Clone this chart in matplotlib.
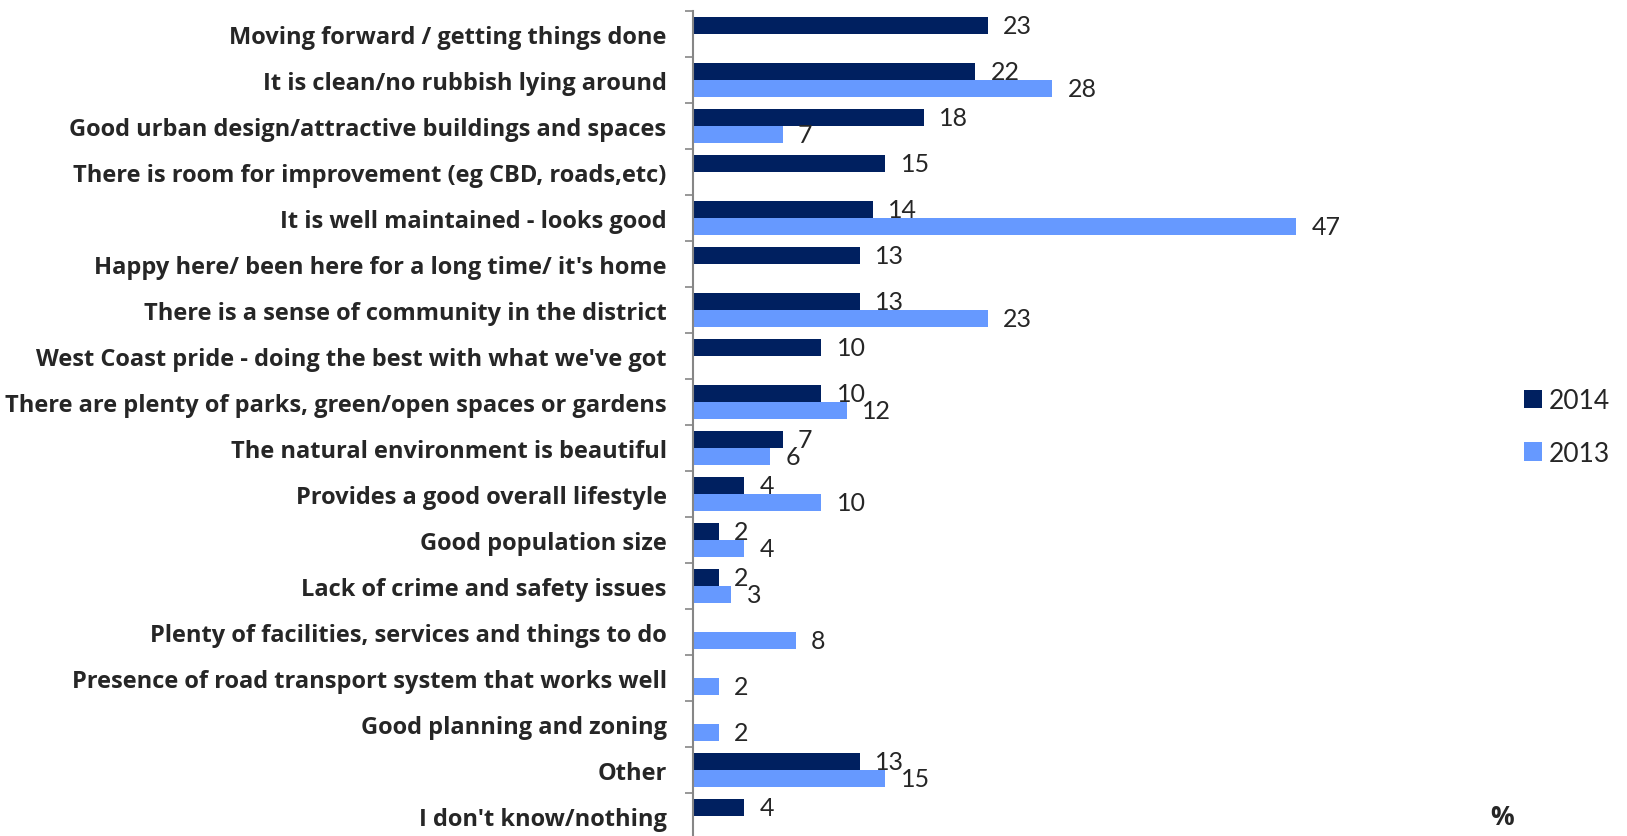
"""Reasons respondents are proud of the district, 2014 vs 2013."""

import matplotlib

matplotlib.use("Agg")
import matplotlib.pyplot as plt
import numpy as np
from matplotlib.patches import Patch

categories = [
    "Moving forward / getting things done",
    "It is clean/no rubbish lying around",
    "Good urban design/attractive buildings and spaces",
    "There is room for improvement (eg CBD, roads,etc)",
    "It is well maintained - looks good",
    "Happy here/ been here for a long time/ it's home",
    "There is a sense of community in the district",
    "West Coast pride - doing the best with what we've got",
    "There are plenty of parks, green/open spaces or gardens",
    "The natural environment is beautiful",
    "Provides a good overall lifestyle",
    "Good population size",
    "Lack of crime and safety issues",
    "Plenty of facilities, services and things to do",
    "Presence of road transport system that works well",
    "Good planning and zoning",
    "Other",
    "I don't know/nothing",
]
values_2014 = [23, 22, 18, 15, 14, 13, 13, 10, 10, 7, 4, 2, 2, None, None, None, 13, 4]
values_2013 = [None, 28, 7, None, 47, None, 23, None, 12, 6, 10, 4, 3, 8, 2, 2, 15, None]
series_names = ["2014", "2013"]

DARK = "#002060"
LIGHT = "#6699FF"
AXIS_GREY = "#868686"
TEXT = "#262626"

plt.rcParams["font.family"] = ["Lato", "DejaVu Sans"]

fig = plt.figure(figsize=(16.27, 8.37), dpi=100)
# first category boundary sits ~11px from the top; rows are ~46px tall
ax = fig.add_axes([693 / 1627, -3 / 837, (1450 - 693) / 1627, 828 / 837])

y = np.arange(len(categories))
bar_h = 0.37

for offset, values, color in [(-bar_h / 2, values_2014, DARK), (bar_h / 2, values_2013, LIGHT)]:
    for i, v in enumerate(values):
        if v is None:
            continue
        ax.barh(y[i] + offset, v, height=bar_h, color=color, edgecolor="none")
        ax.annotate(
            str(v),
            xy=(v, y[i] + offset),
            xytext=(11, 0),
            textcoords="offset points",
            ha="left",
            va="center",
            fontsize=18,
            color=TEXT,
        )

ax.set_ylim(len(categories) - 0.5, -0.5)
ax.set_xlim(0, (1450 - 693) / 12.83)

ax.set_yticks(y)
ax.set_yticklabels(categories, fontsize=17, fontweight="bold", color=TEXT, family=["Open Sans", "DejaVu Sans"])
ax.set_yticks(np.arange(len(categories) + 1) - 0.5, minor=True)
ax.tick_params(axis="y", which="major", length=0, pad=19)
ax.tick_params(axis="y", which="minor", length=6, width=1.2, color=AXIS_GREY)
ax.set_xticks([])

for side in ["top", "right", "bottom"]:
    ax.spines[side].set_visible(False)
ax.spines["left"].set_color(AXIS_GREY)
ax.spines["left"].set_linewidth(1.5)

handles = [Patch(facecolor=DARK, label=series_names[0]), Patch(facecolor=LIGHT, label=series_names[1])]
fig.legend(
    handles=handles,
    loc="center left",
    bbox_to_anchor=(1500 / 1627, 1 - 428 / 837),
    frameon=False,
    fontsize=19,
    handlelength=0.7,
    handleheight=0.7,
    handletextpad=0.25,
    labelspacing=1.05,
    labelcolor=TEXT,
)

fig.text(1502 / 1627, 1 - 818 / 837, "%", fontsize=19, fontweight="bold", color=TEXT, ha="center", va="center",
         family=["Open Sans", "DejaVu Sans"])

fig.savefig("out.png", dpi=100)
